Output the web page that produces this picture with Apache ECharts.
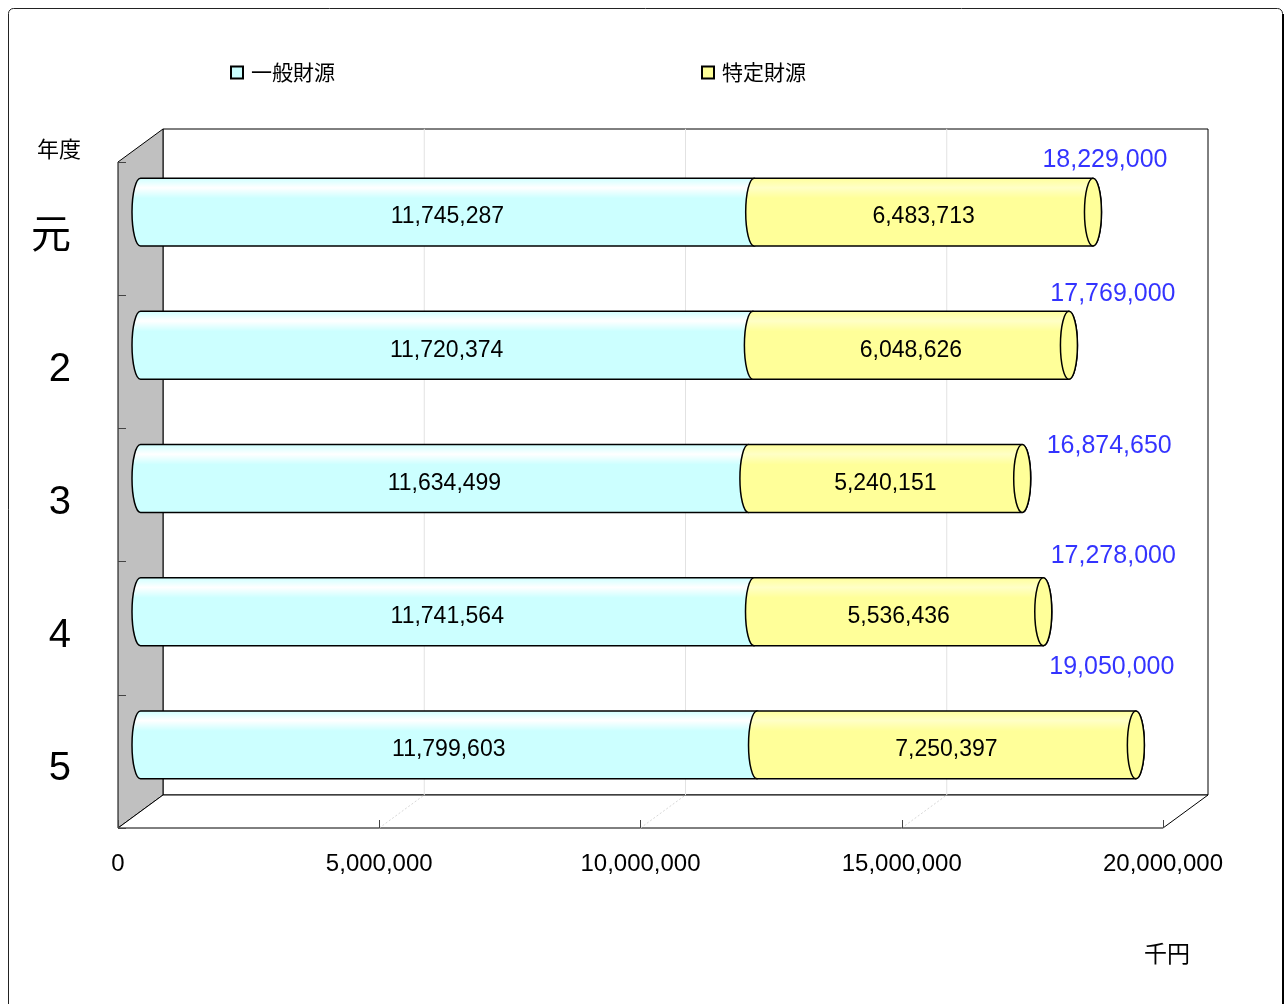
<!DOCTYPE html>
<html>
<head>
<meta charset="utf-8">
<script src="https://cdn.jsdelivr.net/npm/echarts@6/dist/echarts.min.js"></script>
<style>
  html, body { margin: 0; padding: 0; background: #fff; }
  #chart { width: 1287px; height: 1004px; }
</style>
</head>
<body>
<div id="chart"></div>
<script>
// data
const years = ['元', '2', '3', '4', '5']
const general = [11745287, 11720374, 11634499, 11741564, 11799603] // 一般財源
const specific = [6483713, 6048626, 5240151, 5536436, 7250397] // 特定財源
const xTicks = [0, 5000000, 10000000, 15000000, 20000000]

// label offsets for the totals (moved by hand in the original)
const totalOffsets = [[12, -52], [44, -51], [87, -32], [70, -56], [-24, -78]]

// 3d box layout
const FX = 118
const FY = 162
const W = 1045
const H = 666
const DX = 45
const DY = -33
const CJK = '"Noto Sans CJK JP", sans-serif'
const NUM = '"Liberation Sans", "Noto Sans CJK JP", sans-serif'

const totals = general.map((g, i) => g + specific[i])
const fmt = v => v.toLocaleString('en-US')

function frameGraphics() {
  const els = []
  // outer frame
  els.push({
    type: 'rect', z: -20,
    shape: { x: 8.5, y: 8.5, width: 1274, height: 1010, r: 5 },
    style: { fill: '#fff', stroke: '#222', lineWidth: 1 }
  })
  els.push({
    type: 'line', z: -19,
    shape: { x1: 1283, y1: 14, x2: 1283, y2: 1004 },
    style: { stroke: '#000', lineWidth: 2 }
  })
  // back wall
  els.push({
    type: 'rect', z: -10,
    shape: { x: FX + DX, y: FY + DY, width: W, height: H },
    style: { fill: '#fff', stroke: '#000', lineWidth: 1 }
  })
  // left wall
  els.push({
    type: 'polygon', z: -9,
    shape: { points: [[FX, FY], [FX + DX, FY + DY], [FX + DX, FY + DY + H], [FX, FY + H]] },
    style: { fill: '#C0C0C0', stroke: '#000', lineWidth: 1 }
  })
  // floor
  els.push({
    type: 'polygon', z: -9,
    shape: { points: [[FX, FY + H], [FX + DX, FY + DY + H], [FX + DX + W, FY + DY + H], [FX + W, FY + H]] },
    style: { fill: '#fff', stroke: '#000', lineWidth: 1 }
  })
  // grid lines on back wall and floor
  for (let k = 1; k < xTicks.length - 1; k++) {
    const x = FX + W * xTicks[k] / xTicks[xTicks.length - 1]
    els.push({
      type: 'line', z: -8,
      shape: { x1: x + DX, y1: FY + DY, x2: x + DX, y2: FY + DY + H },
      style: { stroke: '#e2e2e2', lineWidth: 1 }
    })
    els.push({
      type: 'line', z: -8,
      shape: { x1: x, y1: FY + H, x2: x + DX, y2: FY + H + DY },
      style: { stroke: '#d8d8d8', lineWidth: 1, lineDash: [2, 2] }
    })
  }
  els.push({
    type: 'text', left: 37, top: 138,
    style: { text: '年度', fontSize: 22, fontFamily: CJK, fill: '#000' }
  })
  els.push({
    type: 'text', left: 1144, top: 942,
    style: { text: '千円', fontSize: 23, fontFamily: CJK, fill: '#000' }
  })
  return els
}

function cylinder(color, isTop) {
  return function (params, api) {
    const p0 = api.coord([api.value(0), api.value(2)])
    const p1 = api.coord([api.value(1), api.value(2)])
    const h = api.size([0, 1])[1] * 0.51
    const rx = 8.5
    const ry = h / 2
    const top = p0[1] - ry
    const bot = p0[1] + ry
    const x0 = p0[0]
    const x1 = p1[0]
    const d = `M ${x0} ${top} L ${x1} ${top} A ${rx} ${ry} 0 0 1 ${x1} ${bot} L ${x0} ${bot} A ${rx} ${ry} 0 0 1 ${x0} ${top} Z`
    const children = [{
      type: 'path',
      shape: { pathData: d },
      style: {
        fill: {
          type: 'linear', x: 0, y: 0, x2: 0, y2: 1,
          colorStops: [
            { offset: 0, color: color },
            { offset: 0.15, color: echarts.color.lift(color, -0.3) },
            { offset: 0.3, color: color },
            { offset: 1, color: color }
          ]
        },
        stroke: '#000', lineWidth: 1.5
      }
    }]
    if (isTop) {
      children.push({
        type: 'ellipse',
        shape: { cx: x1, cy: p0[1], rx: rx, ry: ry },
        style: { fill: color, stroke: '#000', lineWidth: 1.5 }
      })
    }
    children.push({
      type: 'text',
      style: {
        text: fmt(api.value(1) - api.value(0)),
        x: (x0 + x1) / 2, y: p0[1] + 5,
        align: 'center', verticalAlign: 'middle',
        fontSize: 23, fontFamily: NUM, fill: '#000'
      }
    })
    return { type: 'group', children: children }
  }
}

const chart = echarts.init(document.getElementById('chart'))
chart.setOption({
  animation: false,
  backgroundColor: '#fff',
  legend: {
    data: ['一般財源', '特定財源'],
    left: 230, top: 62, padding: 0,
    itemGap: 366,
    itemWidth: 12, itemHeight: 12,
    icon: 'rect',
    textStyle: { fontSize: 21, fontFamily: CJK, color: '#000', padding: [0, 0, 0, 3] }
  },
  grid: [
    // front plane: axes
    { left: FX, top: FY, width: W, height: H },
    // middle depth: bars
    { left: FX + DX / 2, top: FY + DY / 2, width: W, height: H },
    // year labels sit a little below the front slots
    { left: FX, top: FY + 8, width: W, height: H }
  ],
  xAxis: [
    {
      gridIndex: 0, type: 'value', min: 0, max: 20000000, interval: 5000000, z: 3,
      axisLine: { show: false },
      axisTick: { show: true, inside: true, length: 8, lineStyle: { color: '#444' } },
      splitLine: { show: false },
      axisLabel: { fontSize: 24, fontFamily: NUM, color: '#000', margin: 24, formatter: v => fmt(v) }
    },
    { gridIndex: 1, type: 'value', min: 0, max: 20000000, show: false },
    { gridIndex: 2, type: 'value', min: 0, max: 20000000, show: false }
  ],
  yAxis: [
    {
      gridIndex: 0, type: 'category', data: years, inverse: true, z: 3,
      axisLine: { show: false },
      axisTick: { show: true, inside: true, length: 8, lineStyle: { color: '#444' } },
      axisLabel: { show: false }
    },
    { gridIndex: 1, type: 'category', data: years, inverse: true, show: false },
    {
      gridIndex: 2, type: 'category', data: years, inverse: true,
      axisLine: { show: false },
      axisTick: { show: false },
      splitLine: { show: false },
      axisLabel: { fontSize: 40, fontFamily: NUM, color: '#000', margin: 47 }
    }
  ],
  graphic: frameGraphics(),
  series: [
    {
      name: '一般財源', type: 'custom', xAxisIndex: 1, yAxisIndex: 1,
      itemStyle: { color: '#CCFFFF', borderColor: '#000', borderWidth: 1 },
      renderItem: cylinder('#CCFFFF', false),
      encode: { x: [0, 1], y: 2 },
      data: general.map((v, i) => [0, v, i])
    },
    {
      name: '特定財源', type: 'custom', xAxisIndex: 1, yAxisIndex: 1,
      itemStyle: { color: '#FFFF99', borderColor: '#000', borderWidth: 1 },
      renderItem: cylinder('#FFFF99', true),
      encode: { x: [0, 1], y: 2 },
      data: specific.map((v, i) => [general[i], general[i] + v, i])
    },
    {
      name: '合計', type: 'scatter', xAxisIndex: 1, yAxisIndex: 1,
      symbolSize: 0, z: 5,
      data: totals.map((v, i) => ({
        value: [v, i],
        label: { offset: totalOffsets[i] }
      })),
      label: {
        show: true, position: 'inside',
        formatter: p => fmt(p.value[0]),
        fontSize: 25, fontFamily: NUM, color: '#0000FF'
      }
    }
  ]
})
</script>
</body>
</html>
